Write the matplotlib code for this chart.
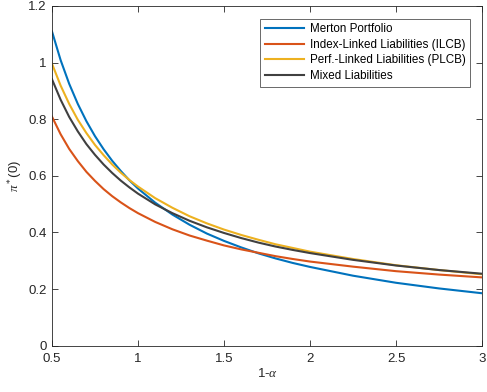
import matplotlib
matplotlib.use("Agg")
import matplotlib.pyplot as plt

# 1 - alpha grid and optimal initial allocation pi*(0) for each strategy
one_minus_alpha = [0.5, 0.55, 0.6, 0.65, 0.7, 0.75, 0.8, 0.85, 0.9, 0.95, 1.0,
                   1.1, 1.2, 1.3, 1.4, 1.5, 1.6, 1.7, 1.8, 1.9, 2.0,
                   2.25, 2.5, 2.75, 3.0]
merton = [1.110, 1.009, 0.925, 0.854, 0.793, 0.740, 0.694, 0.653, 0.617, 0.584, 0.555,
          0.505, 0.463, 0.427, 0.396, 0.370, 0.347, 0.326, 0.308, 0.292, 0.278,
          0.247, 0.222, 0.202, 0.185]
ilcb = [0.809, 0.747, 0.695, 0.652, 0.614, 0.582, 0.553, 0.528, 0.506, 0.486, 0.468,
        0.437, 0.411, 0.389, 0.371, 0.354, 0.340, 0.328, 0.316, 0.306, 0.297,
        0.279, 0.263, 0.251, 0.241]
plcb = [0.996, 0.919, 0.854, 0.798, 0.751, 0.709, 0.673, 0.640, 0.611, 0.585, 0.562,
        0.521, 0.487, 0.457, 0.432, 0.410, 0.391, 0.374, 0.358, 0.345, 0.332,
        0.306, 0.284, 0.267, 0.252]
mixed = [0.941, 0.869, 0.808, 0.757, 0.712, 0.674, 0.640, 0.610, 0.583, 0.559, 0.537,
         0.499, 0.468, 0.441, 0.418, 0.398, 0.380, 0.364, 0.350, 0.338, 0.327,
         0.303, 0.283, 0.267, 0.254]

labels = ["Merton Portfolio", "Index-Linked Liabilities (ILCB)",
          "Perf.-Linked Liabilities (PLCB)", "Mixed Liabilities"]
colors = ["#0072BD", "#D95319", "#EDB120", "#404040"]

xticks = [0.5, 1, 1.5, 2, 2.5, 3]
yticks = [0, 0.2, 0.4, 0.6, 0.8, 1.0, 1.2]

plt.rcParams["font.family"] = ["Liberation Sans", "DejaVu Sans"]
plt.rcParams["mathtext.fontset"] = "custom"
plt.rcParams["mathtext.it"] = "Liberation Serif:italic"
axis_col = "#262626"

fig = plt.figure(figsize=(4.87, 3.92), dpi=100)
ax = fig.add_axes([52 / 487, 46.4 / 392, 430 / 487, 339.6 / 392])

for ys, lab, c in zip([merton, ilcb, plcb, mixed], labels, colors):
    ax.plot(one_minus_alpha, ys, color=c, lw=1.5, label=lab)

ax.set_xlim(0.5, 3)
ax.set_ylim(0, 1.2)
ax.set_xticks(xticks)
ax.set_xticklabels(["0.5", "1", "1.5", "2", "2.5", "3"])
ax.set_yticks(yticks)
ax.set_yticklabels(["0", "0.2", "0.4", "0.6", "0.8", "1", "1.2"])
ax.tick_params(direction="in", length=4, width=0.6, top=True, right=True,
               labelsize=9.5, colors=axis_col)
ax.tick_params(axis="x", pad=5)
ax.tick_params(axis="y", pad=4)
for s in ax.spines.values():
    s.set_color(axis_col)
    s.set_linewidth(0.6)

ax.set_xlabel(r"1-$\alpha$", fontsize=9.5, color=axis_col, labelpad=2)
ax.set_ylabel(r"$\pi^*$(0)", fontsize=9.5, color=axis_col, labelpad=3)

leg = ax.legend(loc="upper right", bbox_to_anchor=(1 - 12 / 430, 1 - 12.7 / 339.6),
                borderaxespad=0, fontsize=8.4, frameon=True, fancybox=False,
                handlelength=3.4, handletextpad=0.45, labelspacing=0.3,
                borderpad=0.4)
leg.get_frame().set_edgecolor(axis_col)
leg.get_frame().set_linewidth(0.6)

fig.savefig("out.png", dpi=100)
